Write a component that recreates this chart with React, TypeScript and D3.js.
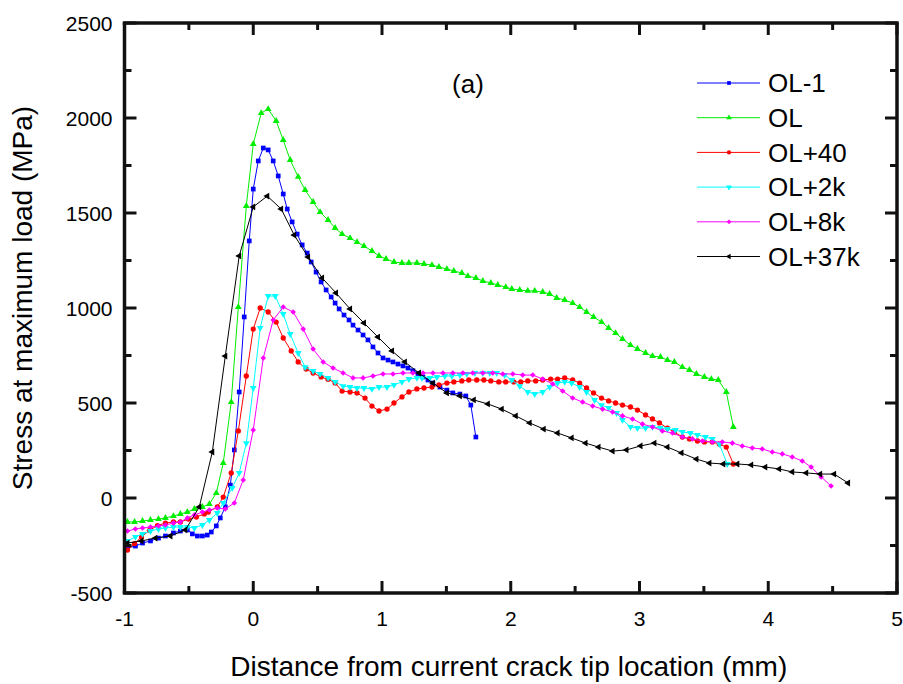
import React from 'react';
import * as d3 from 'd3';

// values (x in mm, y in MPa)
const xTicks = [-1, 0, 1, 2, 3, 4, 5];
const xMinorTicks = [-0.5, 0.5, 1.5, 2.5, 3.5, 4.5];
const yTicks = [-500, 0, 500, 1000, 1500, 2000, 2500];
const yMinorTicks = [-250, 250, 750, 1250, 1750, 2250];

const seriesNames = ['OL-1', 'OL', 'OL+40', 'OL+2k', 'OL+8k', 'OL+37k'];

const ol1 = [
  [-0.977, -263], [-0.915, -253], [-0.86, -237], [-0.798, -226], [-0.736, -211], [-0.682, -200],
  [-0.62, -184], [-0.566, -174], [-0.512, -168], [-0.473, -189], [-0.434, -200], [-0.395, -200],
  [-0.357, -195], [-0.326, -179], [-0.287, -147], [-0.256, -105], [-0.217, -47], [-0.178, 68],
  [-0.147, 253], [-0.109, 558], [-0.07, 953], [-0.031, 1353], [0, 1626], [0.039, 1774],
  [0.078, 1842], [0.116, 1832], [0.155, 1774], [0.194, 1695], [0.233, 1600], [0.264, 1521],
  [0.302, 1453], [0.341, 1389], [0.38, 1332], [0.419, 1289], [0.45, 1242], [0.488, 1189],
  [0.527, 1137], [0.566, 1095], [0.605, 1058], [0.636, 1026], [0.667, 995], [0.705, 963],
  [0.744, 937], [0.775, 910], [0.814, 884], [0.853, 858], [0.891, 832], [0.93, 795],
  [0.969, 763], [1.008, 737], [1.047, 726], [1.085, 716], [1.124, 705], [1.163, 695],
  [1.202, 684], [1.24, 670], [1.279, 655], [1.318, 637], [1.357, 621], [1.395, 605],
  [1.45, 584], [1.504, 568], [1.55, 553], [1.605, 547], [1.651, 537], [1.69, 489], [1.729, 321],
];

const ol = [
  [-0.977, -126], [-0.922, -126], [-0.86, -121], [-0.798, -116], [-0.736, -111], [-0.682, -105],
  [-0.62, -95], [-0.566, -84], [-0.512, -74], [-0.457, -58], [-0.395, -47], [-0.341, -32],
  [-0.287, 26], [-0.233, 184], [-0.171, 505], [-0.116, 1005], [-0.054, 1537], [0, 1863],
  [0.062, 2026], [0.116, 2047], [0.178, 1984], [0.233, 1884], [0.287, 1779], [0.349, 1690],
  [0.403, 1621], [0.465, 1558], [0.519, 1505], [0.581, 1463], [0.636, 1421], [0.69, 1389],
  [0.752, 1368], [0.806, 1347], [0.86, 1326], [0.922, 1300], [0.977, 1274], [1.031, 1258],
  [1.093, 1242], [1.155, 1237], [1.209, 1237], [1.271, 1237], [1.326, 1232], [1.388, 1226],
  [1.442, 1216], [1.504, 1205], [1.558, 1195], [1.62, 1184], [1.667, 1168], [1.729, 1158],
  [1.783, 1142], [1.845, 1132], [1.899, 1121], [1.961, 1110], [2.008, 1100], [2.07, 1095],
  [2.132, 1090], [2.186, 1090], [2.248, 1084], [2.302, 1074], [2.357, 1053], [2.419, 1042],
  [2.481, 1026], [2.535, 1005], [2.589, 979], [2.643, 953], [2.705, 926], [2.76, 895],
  [2.814, 868], [2.868, 837], [2.93, 805], [2.984, 784], [3.047, 763], [3.101, 747],
  [3.163, 742], [3.217, 726], [3.271, 716], [3.333, 689], [3.388, 674], [3.442, 653],
  [3.504, 637], [3.558, 626], [3.612, 621], [3.674, 558], [3.729, 374],
];

const ol40 = [
  [-0.977, -274], [-0.922, -240], [-0.868, -205], [-0.806, -170], [-0.744, -145], [-0.682, -132],
  [-0.62, -126], [-0.566, -126], [-0.504, -111], [-0.442, -100], [-0.38, -84], [-0.349, -74],
  [-0.279, -47], [-0.233, 5], [-0.171, 132], [-0.116, 353], [-0.054, 642], [0, 889],
  [0.054, 1000], [0.116, 979], [0.178, 926], [0.233, 842], [0.295, 774], [0.349, 716],
  [0.411, 679], [0.465, 658], [0.527, 637], [0.581, 625], [0.636, 605], [0.69, 563],
  [0.752, 558], [0.806, 553], [0.868, 526], [0.922, 484], [0.977, 458], [1.039, 468],
  [1.093, 500], [1.155, 532], [1.209, 558], [1.271, 574], [1.326, 579], [1.388, 584],
  [1.442, 595], [1.504, 605], [1.558, 611], [1.62, 616], [1.674, 621], [1.736, 621],
  [1.791, 621], [1.845, 616], [1.907, 611], [1.961, 611], [2.023, 611], [2.078, 611],
  [2.132, 616], [2.194, 616], [2.248, 621], [2.31, 626], [2.364, 626], [2.419, 632],
  [2.481, 621], [2.535, 605], [2.589, 579], [2.643, 553], [2.705, 526], [2.76, 511],
  [2.814, 500], [2.868, 489], [2.93, 479], [2.984, 463], [3.047, 437], [3.101, 416],
  [3.155, 395], [3.217, 368], [3.271, 347], [3.333, 321], [3.388, 311], [3.45, 300],
  [3.504, 295], [3.566, 295], [3.62, 284], [3.674, 268], [3.729, 179],
];

const ol2k = [
  [-0.977, -226], [-0.915, -205], [-0.86, -189], [-0.798, -174], [-0.736, -163], [-0.682, -158],
  [-0.62, -153], [-0.566, -153], [-0.512, -153], [-0.457, -158], [-0.395, -142], [-0.341, -116],
  [-0.279, -79], [-0.233, -26], [-0.163, 53], [-0.109, 132], [-0.054, 289], [0, 579],
  [0.054, 895], [0.116, 1063], [0.171, 1063], [0.233, 968], [0.287, 863], [0.349, 763],
  [0.403, 689], [0.465, 668], [0.519, 653], [0.581, 632], [0.636, 611], [0.698, 589],
  [0.752, 584], [0.806, 579], [0.86, 579], [0.922, 574], [0.977, 584], [1.039, 584],
  [1.093, 595], [1.155, 611], [1.209, 626], [1.271, 632], [1.31, 632], [1.372, 632],
  [1.426, 637], [1.488, 642], [1.543, 642], [1.605, 647], [1.659, 653], [1.721, 658],
  [1.783, 658], [1.837, 658], [1.891, 658], [1.953, 647], [2.008, 621], [2.07, 589],
  [2.132, 558], [2.186, 547], [2.248, 558], [2.302, 584], [2.364, 605], [2.419, 611],
  [2.473, 605], [2.535, 584], [2.589, 558], [2.651, 516], [2.705, 489], [2.76, 474],
  [2.822, 447], [2.868, 411], [2.93, 374], [2.984, 368], [3.047, 368], [3.101, 374],
  [3.163, 368], [3.217, 363], [3.279, 358], [3.333, 347], [3.395, 342], [3.45, 332],
  [3.512, 321], [3.566, 311], [3.62, 284], [3.682, 179],
];

const ol8k = [
  [-0.977, -174], [-0.915, -163], [-0.86, -158], [-0.798, -153], [-0.736, -147], [-0.682, -142],
  [-0.62, -132], [-0.566, -126], [-0.512, -105], [-0.457, -89], [-0.395, -74], [-0.341, -63],
  [-0.279, -53], [-0.217, -58], [-0.147, -26], [-0.078, 95], [0, 358], [0.078, 737],
  [0.155, 937], [0.233, 1005], [0.31, 979], [0.388, 889], [0.465, 784], [0.543, 716],
  [0.62, 684], [0.698, 658], [0.775, 632], [0.853, 632], [0.93, 642], [1.008, 653],
  [1.085, 653], [1.163, 658], [1.24, 658], [1.318, 658], [1.395, 658], [1.473, 658],
  [1.55, 658], [1.628, 658], [1.705, 658], [1.783, 658], [1.86, 658], [1.938, 653],
  [2.016, 653], [2.093, 647], [2.171, 647], [2.248, 626], [2.326, 600], [2.403, 563],
  [2.481, 526], [2.558, 505], [2.636, 484], [2.713, 468], [2.791, 453], [2.868, 432],
  [2.946, 416], [3.023, 389], [3.101, 374], [3.178, 353], [3.256, 342], [3.333, 321],
  [3.411, 311], [3.488, 300], [3.566, 295], [3.643, 295], [3.721, 289], [3.798, 274],
  [3.876, 263], [3.953, 258], [4.031, 242], [4.109, 232], [4.186, 216], [4.264, 195],
  [4.333, 163], [4.411, 111], [4.488, 63],
];

const ol37k = [
  [-0.977, -237], [-0.868, -226], [-0.76, -211], [-0.643, -200], [-0.527, -168], [-0.419, -47],
  [-0.318, 242], [-0.217, 747], [-0.109, 1274], [0, 1532], [0.109, 1589], [0.217, 1521],
  [0.318, 1384], [0.426, 1268], [0.535, 1158], [0.643, 1079], [0.752, 995], [0.86, 921],
  [0.969, 847], [1.078, 774], [1.178, 716], [1.287, 658], [1.395, 605], [1.504, 553],
  [1.605, 537], [1.713, 516], [1.822, 495], [1.93, 468], [2.039, 432], [2.147, 395],
  [2.256, 363], [2.364, 342], [2.473, 316], [2.581, 289], [2.682, 268], [2.791, 247],
  [2.899, 253], [3.008, 274], [3.116, 289], [3.217, 268], [3.326, 237], [3.442, 205],
  [3.543, 184], [3.651, 179], [3.76, 179], [3.868, 174], [3.977, 163], [4.085, 153],
  [4.186, 137], [4.295, 132], [4.403, 126], [4.512, 126], [4.62, 79],
];

const seriesData = [ol1, ol, ol40, ol2k, ol8k, ol37k];

const styles = [
  { color: '#0000ff', symbol: d3.symbolSquare, size: 22, rotate: 0 },
  { color: '#00ee00', symbol: d3.symbolTriangle, size: 20, rotate: 0 },
  { color: '#ff0000', symbol: d3.symbolCircle, size: 22, rotate: 0 },
  { color: '#00ffff', symbol: d3.symbolTriangle, size: 20, rotate: 180 },
  { color: '#ff00ff', symbol: d3.symbolDiamond2, size: 20, rotate: 0 },
  { color: '#000000', symbol: d3.symbolTriangle, size: 20, rotate: -90 },
];

const FONT = '"Liberation Sans", Arial, sans-serif';
const AXIS = '#111111';

const W = 903;
const H = 684;
const margin = { top: 23, right: 6, bottom: 91, left: 124.5 };

const x = d3.scaleLinear().domain([-1, 5]).range([margin.left, W - margin.right]);
const y = d3.scaleLinear().domain([-500, 2500]).range([H - margin.bottom, margin.top]);

const App = () => {
  const [x0, x1] = x.range();
  const [y0, y1] = y.range();
  const line = d3.line<number[]>().x(d => x(d[0])).y(d => y(d[1]));

  const xTickMarks = [
    ...xTicks.map(v => ({ v, len: 12 })),
    ...xMinorTicks.map(v => ({ v, len: 7 })),
  ];
  const yTickMarks = [
    ...yTicks.map(v => ({ v, len: 12 })),
    ...yMinorTicks.map(v => ({ v, len: 7 })),
  ];

  return (
    <svg width={W} height={H} style={{ position: 'absolute', left: 0, top: 0 }}>
      {/* series */}
      {seriesData.map((data, i) => {
        const st = styles[i];
        const sym = d3.symbol().type(st.symbol).size(st.size)() as string;
        return (
          <g key={seriesNames[i]}>
            <path d={line(data) as string} fill="none" stroke={st.color} strokeWidth={1} />
            {data.map((d, j) => (
              <path key={j} d={sym} fill={st.color}
                transform={`translate(${x(d[0])},${y(d[1])}) rotate(${st.rotate})`} />
            ))}
          </g>
        );
      })}

      {/* frame: four sides */}
      <line x1={x0 - 1.75} x2={x1 + 1.75} y1={y1} y2={y1} stroke={AXIS} strokeWidth={3.5} />
      <line x1={x0 - 1.75} x2={x1 + 1.75} y1={y0} y2={y0} stroke={AXIS} strokeWidth={3.5} />
      <line x1={x0} x2={x0} y1={y1} y2={y0} stroke={AXIS} strokeWidth={3.5} />
      <line x1={x1} x2={x1} y1={y1} y2={y0} stroke={AXIS} strokeWidth={3.5} />

      {/* ticks, inward on all four sides */}
      {xTickMarks.map(t => (
        <g key={'x' + t.v}>
          <line x1={x(t.v)} x2={x(t.v)} y1={y0} y2={y0 - t.len} stroke={AXIS} strokeWidth={3} />
          <line x1={x(t.v)} x2={x(t.v)} y1={y1} y2={y1 + t.len} stroke={AXIS} strokeWidth={3} />
        </g>
      ))}
      {yTickMarks.map(t => (
        <g key={'y' + t.v}>
          <line x1={x0} x2={x0 + t.len} y1={y(t.v)} y2={y(t.v)} stroke={AXIS} strokeWidth={3} />
          <line x1={x1} x2={x1 - t.len} y1={y(t.v)} y2={y(t.v)} stroke={AXIS} strokeWidth={3} />
        </g>
      ))}

      {/* tick labels */}
      {xTicks.map(v => (
        <text key={'xl' + v} x={x(v)} y={y0 + 33} textAnchor="middle"
          fontFamily={FONT} fontSize={21}>{String(v)}</text>
      ))}
      {yTicks.map(v => (
        <text key={'yl' + v} x={x0 - 12} y={y(v)} dy="0.36em" textAnchor="end"
          fontFamily={FONT} fontSize={21}>{String(v)}</text>
      ))}

      {/* axis titles */}
      <text x={(x0 + x1) / 2 - 2} y={676} textAnchor="middle" fontFamily={FONT} fontSize={28}>
        Distance from current crack tip location (mm)
      </text>
      <text transform={`translate(32,${(y0 + y1) / 2 - 10}) rotate(-90)`} textAnchor="middle"
        fontFamily={FONT} fontSize={28}>
        Stress at maximum load (MPa)
      </text>

      {/* panel label */}
      <text x={468} y={93} textAnchor="middle" fontFamily={FONT} fontSize={26}>(a)</text>

      {/* legend */}
      {seriesNames.map((name, i) => {
        const st = styles[i];
        const ly = 83 + i * 34.7;
        return (
          <g key={'lg' + name}>
            <line x1={697} x2={760} y1={ly} y2={ly} stroke={st.color} strokeWidth={1} />
            <path d={d3.symbol().type(st.symbol).size(14)() as string} fill={st.color}
              transform={`translate(729,${ly}) rotate(${st.rotate})`} />
            <text x={768} y={ly} dy="0.36em" fontFamily={FONT} fontSize={26}>{name}</text>
          </g>
        );
      })}
    </svg>
  );
};

export default App;
